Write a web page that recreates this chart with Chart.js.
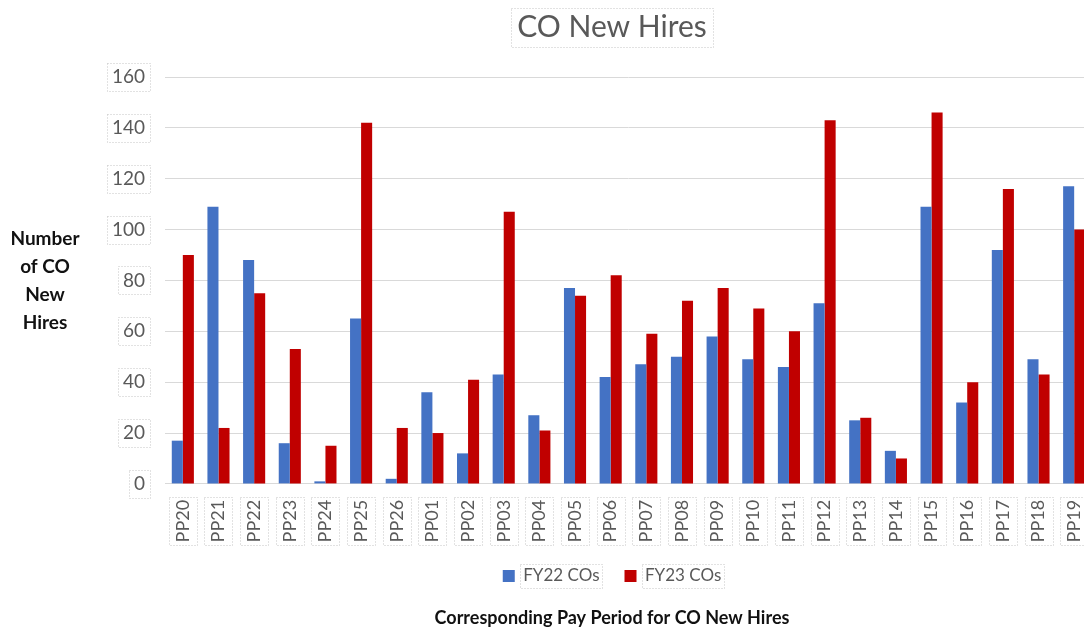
<!DOCTYPE html>
<html>
<head>
<meta charset="utf-8">
<title>CO New Hires</title>
<script src="https://cdn.jsdelivr.net/npm/chart.js@4.4.1/dist/chart.umd.min.js"></script>
<style>
  html, body { margin: 0; padding: 0; background: #fff; overflow: hidden; }
  #wrap { width: 1224px; height: 629px; }
</style>
</head>
<body>
<div id="wrap"><canvas id="chart" width="1224" height="629"></canvas></div>
<script>
const payPeriods = ['PP20', 'PP21', 'PP22', 'PP23', 'PP24', 'PP25', 'PP26', 'PP01', 'PP02', 'PP03',
  'PP04', 'PP05', 'PP06', 'PP07', 'PP08', 'PP09', 'PP10', 'PP11', 'PP12', 'PP13',
  'PP14', 'PP15', 'PP16', 'PP17', 'PP18', 'PP19'];
const fy22COs = [17, 109, 88, 16, 1, 65, 2, 36, 12, 43, 27, 77, 42, 47, 50, 58, 49, 46, 71, 25, 13, 109, 32, 92, 49, 117];
const fy23COs = [90, 22, 75, 53, 15, 142, 22, 20, 41, 107, 21, 74, 82, 59, 72, 77, 69, 60, 143, 26, 10, 146, 40, 116, 43, 100];
const yTicks = [0, 20, 40, 60, 80, 100, 120, 140, 160];
const yTitleLines = ['Number', 'of CO', 'New', 'Hires'];

const FONT = 'Lato';
const GRAY = '#595959';

// Y axis title is drawn flat (not rotated) left of the tick labels
const flatYTitle = {
  id: 'flatYTitle',
  afterDraw(chart) {
    const ctx = chart.ctx;
    ctx.save();
    ctx.font = 'bold 19px ' + FONT;
    ctx.fillStyle = '#111';
    ctx.textAlign = 'center';
    ctx.textBaseline = 'middle';
    yTitleLines.forEach((line, i) => ctx.fillText(line, 45, 239 + i * 28));
    ctx.restore();
  }
};

// faint dotted frames around the text elements, as in the source picture
const dottedBoxes = {
  id: 'dottedBoxes',
  afterDraw(chart) {
    const ctx = chart.ctx;
    const area = chart.chartArea;
    ctx.save();
    ctx.strokeStyle = '#c4c4c4';
    ctx.lineWidth = 1;
    ctx.setLineDash([1, 2]);

    const y = chart.scales.y;
    ctx.font = '19px ' + FONT;
    y.ticks.forEach((t, i) => {
      const py = y.getPixelForTick(i);
      const w = ctx.measureText(String(t.label)).width;
      ctx.strokeRect(Math.round(area.left - 20 - w - 5) + 0.5, Math.round(py - 14) + 0.5, Math.round(w + 10), 28);
    });

    const x = chart.scales.x;
    ctx.font = '18px ' + FONT;
    x.ticks.forEach((t, i) => {
      const px = x.getPixelForTick(i);
      const w = ctx.measureText(String(t.label)).width;
      const top = area.bottom + 16;
      ctx.strokeRect(Math.round(px - 14) + 0.5, Math.round(top - 3) + 0.5, 28, Math.round(w + 6));
    });

    ctx.font = '30px ' + FONT;
    const tw = ctx.measureText(chart.options.plugins.title.text).width;
    const cx = chart.width / 2;
    ctx.strokeRect(Math.round(cx - tw / 2 - 6) + 0.5, 8.5, Math.round(tw + 12), 39);

    const legend = chart.legend;
    const lo = legend.options.labels;
    legend.legendHitBoxes.forEach(hb => {
      const tx = hb.left + lo.boxWidth + 17 / 2;
      const cy = hb.top + hb.height / 2;
      ctx.strokeRect(Math.round(tx - 3) + 0.5, Math.round(cy - 12) + 0.5, Math.round(hb.left + hb.width - tx + 6), 24);
    });
    ctx.restore();
  }
};

new Chart(document.getElementById('chart'), {
  type: 'bar',
  data: {
    labels: payPeriods,
    datasets: [
      { label: 'FY22 COs', data: fy22COs, backgroundColor: '#4472C4', borderWidth: 0 },
      { label: 'FY23 COs', data: fy23COs, backgroundColor: '#C00000', borderWidth: 0 }
    ]
  },
  options: {
    responsive: false,
    animation: false,
    devicePixelRatio: 1,
    layout: { padding: 0 },
    datasets: {
      bar: { categoryPercentage: 0.62, barPercentage: 1.0 }
    },
    scales: {
      x: {
        grid: { display: false, drawTicks: false },
        border: { display: false },
        ticks: {
          color: GRAY,
          font: { family: FONT, size: 18 },
          minRotation: 90,
          maxRotation: 90,
          padding: 16,
          autoSkip: false
        },
        afterFit: scale => { scale.height = 58.5; }
      },
      y: {
        min: 0,
        max: 160,
        afterBuildTicks: scale => { scale.ticks = yTicks.map(v => ({ value: v })); },
        grid: { color: '#d9d9d9', lineWidth: 1, drawTicks: false },
        border: { display: false },
        ticks: {
          color: GRAY,
          font: { family: FONT, size: 19 },
          padding: 20
        },
        afterFit: scale => { scale.width = 165; }
      },
      // empty spacer on the right: the plot runs past the window edge
      spacer: {
        type: 'linear',
        position: 'right',
        grid: { display: false, drawTicks: false },
        border: { display: false },
        ticks: { display: false },
        afterFit: scale => { scale.width = 132; }
      }
    },
    plugins: {
      title: {
        display: true,
        text: 'CO New Hires',
        color: GRAY,
        font: { family: FONT, size: 30, weight: 'normal' },
        padding: { top: 9, bottom: 32 }
      },
      subtitle: {
        display: true,
        position: 'bottom',
        text: 'Corresponding Pay Period for CO New Hires',
        color: '#111',
        font: { family: FONT, size: 18, weight: 'bold' },
        padding: { top: 13, bottom: 0 }
      },
      legend: {
        position: 'bottom',
        labels: {
          color: GRAY,
          font: { family: FONT, size: 17 },
          boxWidth: 12,
          boxHeight: 12,
          padding: 25
        }
      },
      tooltip: { enabled: false }
    }
  },
  plugins: [flatYTitle, dottedBoxes]
});
</script>
</body>
</html>
